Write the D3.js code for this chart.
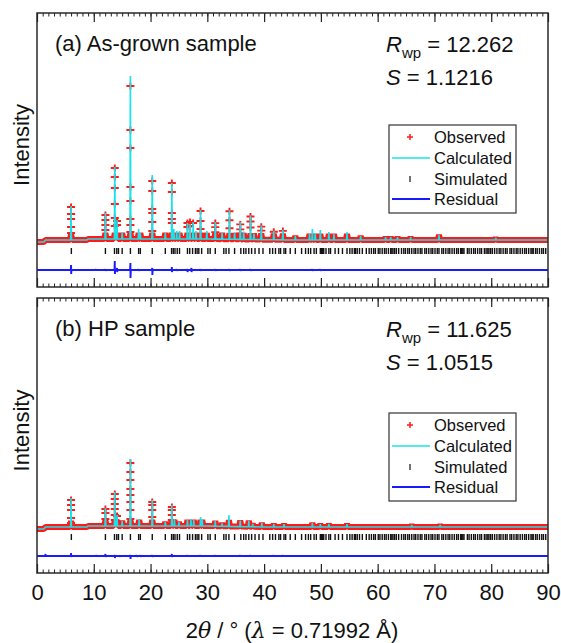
<!DOCTYPE html>
<html lang="en">
<head>
  <meta charset="UTF-8">
  <title>Rietveld refinement</title>
  <style>
    body { margin: 0; background: #fff; }
    svg text { font-family: Arial, 'Liberation Sans', sans-serif; fill: #111; }
  </style>
</head>
<body>
  <script src="https://d3js.org/d3.v7.min.js"></script>
  <script>

    // 2theta range and axis labels
    const twoThetaRange = [0, 90];
    const xTickLabels = [0, 10, 20, 30, 40, 50, 60, 70, 80, 90];

    // (a) as-grown: calculated peaks [2theta, height above background]
    const peaksA = [
      [6.0, 34], [12.05, 26], [13.7, 72], [14.1, 19], [15.0, 7], [16.45, 163], [17.9, 10], [18.2, 6],
      [20.3, 64], [22.6, 6], [23.75, 56], [24.1, 10], [24.6, 8], [25.1, 8], [26.5, 16], [26.95, 15],
      [27.5, 17], [28.0, 8], [28.8, 29], [29.9, 8], [31.4, 17], [32.6, 7], [33.9, 29], [34.8, 7],
      [35.8, 17], [36.4, 8], [37.6, 24], [38.2, 6], [39.5, 14], [41.7, 9], [43.3, 10], [45.5, 4],
      [48.0, 6], [48.5, 11], [49.0, 7], [49.9, 10], [51.4, 8], [52.3, 6], [54.6, 8], [57.0, 4],
      [61.4, 3], [62.3, 3], [63.5, 3], [65.8, 3], [70.8, 5], [80.8, 2]
    ];
    // (a) observed points on the peaks [2theta, [heights]]
    const obsA = [
      [6.0, [33, 26, 21, 13, 7]], [12.05, [24, 19, 14, 9]], [13.7, [71, 62, 51, 35, 21, 13]],
      [14.1, [18, 14]], [16.45, [153, 109, 91, 52, 38, 20, 14, 7]], [20.3, [58, 48, 30, 26, 17, 8]],
      [23.75, [56, 47, 26, 20, 16]], [26.5, [16, 12]], [26.95, [17, 13]], [27.5, [16]],
      [28.8, [28, 18, 10]], [31.4, [16, 12, 7]], [33.9, [28, 19, 11]], [35.8, [15, 10, 6]],
      [37.6, [23, 18, 12]], [39.5, [13, 9]], [41.7, [8]], [43.3, [9]]
    ];
    // (a) background [2theta, level]
    const bgA = [[0, -2], [1.2, -2], [1.5, 0], [8.8, 0], [9.0, 1], [30, 1], [45, 0], [90, 0]];
    // (a) residual spikes [2theta, up, down]
    const residA = [
      [6.0, 5, -4], [10.4, 1, 0], [12.05, 1, -1], [13.7, 9, -4], [14.1, 2, -2], [16.45, 7, -8],
      [17.9, 1, -1], [20.3, 2, -5], [23.75, 3, -2], [24.6, 1, -1], [26.5, 1, -2], [27.2, 2, -2],
      [28.8, 1, -1], [31.4, 1, -1], [33.9, 1, -1], [35.8, 1, -1], [37.6, 1, -1], [48.5, 1, -1], [49.9, 1, -1]
    ];

    // (b) HP sample
    const peaksB = [
      [6.0, 29], [12.05, 18], [13.7, 34], [14.1, 11], [15.0, 5], [16.45, 67], [18.0, 7], [20.3, 26],
      [22.6, 4], [23.75, 21], [24.2, 7], [25.0, 4], [26.5, 6], [27.1, 7], [27.6, 6], [28.8, 9],
      [29.1, 7], [31.4, 5], [32.6, 3], [33.8, 11], [35.8, 6], [37.3, 6], [38.0, 3], [39.6, 4],
      [41.7, 3], [43.5, 3], [48.5, 4], [49.9, 3], [51.4, 3], [54.6, 3], [66.0, 2], [71.0, 2]
    ];
    const obsB = [
      [6.0, [27, 22, 17, 9, 4]], [12.05, [17, 13, 7]], [13.7, [32, 27, 22, 17, 11, 6]], [14.1, [10]],
      [16.45, [63, 54, 46, 37, 31, 24, 16, 7]], [20.3, [24, 21, 16, 9]], [23.75, [19, 16, 11, 6]]
    ];
    const bgB = [[0, -2], [1.2, -2], [1.5, 0], [8.8, 0], [9.0, 1], [30, 1], [40, 0], [90, 0]];
    const residB = [
      [1.5, 2, 0], [6.0, 3, -1], [10.5, 1, 0], [12.05, 2, -1], [13.7, 1, -2], [14.5, 0, -1],
      [16.45, 1, -3], [17.6, 1, -1], [18.2, 1, -1], [20.3, 1, -1], [23.75, 2, -1], [26.5, 1, 0],
      [28.8, 1, 0], [31.4, 1, 0], [35.8, 1, 0], [37.6, 1, 0], [41.7, 1, 0], [43.3, 1, 0]
    ];

    // simulated reflection positions (same phase for both)
    const reflections = [
      6.05, 12.05, 13.65, 14.05, 14.35, 15.0, 16.45, 17.9, 18.2, 20.3, 22.6, 23.7, 24.0, 24.3, 24.7,
      25.1, 26.5, 26.9, 27.4, 27.9, 28.2, 28.5, 29.0, 30.1, 30.5, 31.4, 32.9, 33.3, 33.8, 34.8, 35.9,
      36.4, 36.8, 37.3, 37.8, 38.4, 39.1, 39.8, 41.0, 41.5, 42.0, 42.6, 42.9, 43.5, 43.8, 44.6, 45.5,
      46.6, 47.3, 47.8, 48.2, 48.8, 49.2, 49.9, 50.1, 50.3, 50.5, 50.9, 51.4, 51.7, 52.5, 53.1, 53.8,
      54.6, 55.1, 55.5, 55.9, 56.1, 56.4, 56.8, 57.3, 58.0, 58.5, 58.9, 59.3, 59.6, 60.1, 60.4, 60.8,
      61.2, 61.5, 61.9, 62.3, 62.5, 62.7, 63.0, 63.3, 63.7, 64.2, 64.6, 64.9, 65.3, 65.6, 66.0, 66.4,
      66.7, 67.1, 67.5, 67.8, 68.3, 68.6, 69.0, 69.4, 69.7, 70.1, 70.5, 70.8, 71.3, 71.6, 72.0, 72.4,
      72.7, 73.1, 73.5, 73.9, 74.2, 74.6, 74.8, 75.0, 75.2, 75.8, 76.1, 76.5, 76.9, 77.2, 77.6, 78.0,
      78.3, 78.8, 79.1, 79.4, 79.6, 79.9, 80.2, 80.6, 81.0, 81.4, 81.7, 82.1, 82.5, 82.8, 83.3, 83.6,
      84.0, 84.4, 84.7, 85.1, 85.5, 85.9, 86.2, 86.6, 87.0, 87.2, 87.4, 87.8, 88.1, 88.5, 88.9, 89.2, 89.6
    ];

    const width = 561, height = 643;
    const colObs = '#ff1a1a', colCalc = '#19e3ea', colRes = '#1a1aff';

    const svg = d3.select('body').append('svg')
      .attr('width', width)
      .attr('height', height);

    const x = d3.scaleLinear().domain(twoThetaRange).range([37, 548]);

    const panels = [
      { top: 13, bottom: 287, yDomain: [-47, 227], peaks: peaksA, obs: obsA, bg: bgA, resid: residA,
        residBase: -30, tickBase: -11, label: '(a) As-grown sample', rwp: '12.262', s: '1.1216', legendTop: 125 },
      { top: 298, bottom: 573, yDomain: [-46, 229], peaks: peaksB, obs: obsB, bg: bgB, resid: residB,
        residBase: -29, tickBase: -10, label: '(b) HP sample', rwp: '11.625', s: '1.0515', legendTop: 413 }
    ];

    panels.forEach((p, pi) => {
      const y = d3.scaleLinear().domain(p.yDomain).range([p.bottom, p.top]);
      const bg = d3.scaleLinear().domain(p.bg.map(d => d[0])).range(p.bg.map(d => d[1]));
      const g = svg.append('g');

      const clipId = 'clip' + pi;
      svg.append('clipPath').attr('id', clipId)
        .append('rect')
        .attr('x', x(0)).attr('y', p.top)
        .attr('width', x(90) - x(0)).attr('height', p.bottom - p.top);
      const plot = g.append('g').attr('clip-path', `url(#${clipId})`);

      // profile points: background breakpoints plus triangular peaks
      const profile = (hw, cap) => {
        const pts = p.bg.map(d => [d[0], d[1]]);
        p.peaks.forEach(([pos, h]) => {
          pts.push([pos - hw, bg(pos - hw)]);
          pts.push([pos, bg(pos) + Math.min(h, cap)]);
          pts.push([pos + hw, bg(pos + hw)]);
        });
        return pts.sort((a, b) => a[0] - b[0]);
      };
      const line = d3.line().x(d => x(d[0])).y(d => y(d[1]));

      // observed band
      plot.append('path')
        .attr('d', line(profile(0.2, 6)))
        .attr('fill', 'none')
        .attr('stroke', colObs)
        .attr('stroke-width', 6)
        .attr('stroke-linejoin', 'bevel');

      // observed markers on peaks
      const marks = [];
      p.obs.forEach(([pos, hs]) => hs.forEach(h => marks.push([pos, bg(pos) + h])));
      plot.selectAll('path.obs')
        .data(marks)
        .join('path')
        .attr('class', 'obs')
        .attr('d', d => `M${x(d[0]) - 4},${y(d[1])}h8M${x(d[0])},${y(d[1]) - 3.5}v7`)
        .attr('stroke', colObs)
        .attr('stroke-width', 1.9);

      // calculated
      plot.append('path')
        .attr('d', line(profile(0.07, 1000)))
        .attr('fill', 'none')
        .attr('stroke', colCalc)
        .attr('stroke-width', 1.6);

      // simulated reflections
      plot.selectAll('line.refl')
        .data(reflections)
        .join('line')
        .attr('class', 'refl')
        .attr('x1', d => x(d)).attr('x2', d => x(d))
        .attr('y1', y(p.tickBase + 3)).attr('y2', y(p.tickBase - 3))
        .attr('stroke', '#111')
        .attr('stroke-width', 1.4);

      // residual
      const rpts = [[0, p.residBase]];
      p.resid.forEach(([pos, up, dn]) => {
        rpts.push([pos - 0.05, p.residBase]);
        rpts.push([pos, p.residBase + up]);
        rpts.push([pos + 0.02, p.residBase + dn]);
        rpts.push([pos + 0.07, p.residBase]);
      });
      rpts.push([90, p.residBase]);
      plot.append('path')
        .attr('d', line(rpts))
        .attr('fill', 'none')
        .attr('stroke', colRes)
        .attr('stroke-width', 1.9);

      // frame
      g.append('rect')
        .attr('x', x(0)).attr('y', p.top)
        .attr('width', x(90) - x(0)).attr('height', p.bottom - p.top)
        .attr('fill', 'none')
        .attr('stroke', '#2a2a2a')
        .attr('stroke-width', 1.5);

      // inward ticks, top and bottom
      const minor = d3.range(0, 91, 1);
      [d3.axisBottom, d3.axisTop].forEach(ax => {
        const yy = ax === d3.axisBottom ? p.bottom : p.top;
        g.append('g').attr('transform', `translate(0,${yy})`)
          .call(ax(x).tickValues(minor).tickSize(-3.5).tickFormat(''))
          .call(s => s.select('.domain').remove());
        const major = g.append('g').attr('transform', `translate(0,${yy})`)
          .call(ax(x).tickValues(xTickLabels).tickSize(-9).tickPadding(11)
            .tickFormat(pi === 1 && ax === d3.axisBottom ? d3.format('d') : ''))
          .call(s => s.select('.domain').remove());
        major.selectAll('line').attr('stroke-width', 1.2);
        major.selectAll('text')
          .style('font-family', "Arial, 'Liberation Sans', sans-serif")
          .style('font-size', '22px')
          .attr('fill', '#111');
      });
      g.selectAll('.tick line').attr('stroke', '#222');

      // y label
      g.append('text')
        .attr('transform', `translate(29,${(p.top + p.bottom) / 2 - 5}) rotate(-90)`)
        .attr('text-anchor', 'middle')
        .style('font-size', '22px')
        .text('Intensity');

      // panel label
      g.append('text')
        .attr('x', 55).attr('y', p.top + 38)
        .style('font-size', '22px')
        .text(p.label);

      // fit statistics
      const r = g.append('text').attr('x', 386).attr('y', p.top + 39).style('font-size', '22px');
      r.append('tspan').style('font-style', 'italic').text('R');
      r.append('tspan').attr('dy', 6).style('font-size', '15px').text('wp');
      r.append('tspan').attr('dy', -6).text(' = ' + p.rwp);
      const s = g.append('text').attr('x', 386).attr('y', p.top + 72).style('font-size', '22px');
      s.append('tspan').style('font-style', 'italic').text('S');
      s.append('tspan').text(' = ' + p.s);

      // legend
      const lg = g.append('g').attr('transform', `translate(389,${p.legendTop})`);
      lg.append('rect')
        .attr('width', 127).attr('height', 88)
        .attr('fill', '#fff')
        .attr('stroke', '#333').attr('stroke-width', 1.2);
      const rows = [
        { name: 'Observed', ry: 12 }, { name: 'Calculated', ry: 33 },
        { name: 'Simulated', ry: 54 }, { name: 'Residual', ry: 74 }
      ];
      lg.append('path').attr('d', `M18,${rows[0].ry}h6M21,${rows[0].ry - 3}v6`)
        .attr('stroke', colObs).attr('stroke-width', 1.5);
      lg.append('line').attr('x1', 3).attr('x2', 41).attr('y1', rows[1].ry).attr('y2', rows[1].ry)
        .attr('stroke', colCalc).attr('stroke-width', 1.4);
      lg.append('line').attr('x1', 21).attr('x2', 21).attr('y1', rows[2].ry - 3).attr('y2', rows[2].ry + 3)
        .attr('stroke', '#111').attr('stroke-width', 1.2);
      lg.append('line').attr('x1', 3).attr('x2', 41).attr('y1', rows[3].ry).attr('y2', rows[3].ry)
        .attr('stroke', colRes).attr('stroke-width', 2.2);
      lg.selectAll('text.lt')
        .data(rows)
        .join('text')
        .attr('class', 'lt')
        .attr('x', 45).attr('y', d => d.ry + 6)
        .style('font-size', '16.5px')
        .text(d => d.name);
    });

    // x axis title
    const xt = svg.append('text')
      .attr('x', 292).attr('y', 638)
      .attr('text-anchor', 'middle')
      .style('font-size', '22px');
    xt.append('tspan').text('2');
    xt.append('tspan').style('font-style', 'italic').style('font-family', "'DejaVu Serif', serif").text('θ');
    xt.append('tspan').text('  / ° (');
    xt.append('tspan').style('font-style', 'italic').style('font-family', "'DejaVu Serif', serif").text('λ');
    xt.append('tspan').text(' = 0.71992 Å)');

  </script>
</body>
</html>
